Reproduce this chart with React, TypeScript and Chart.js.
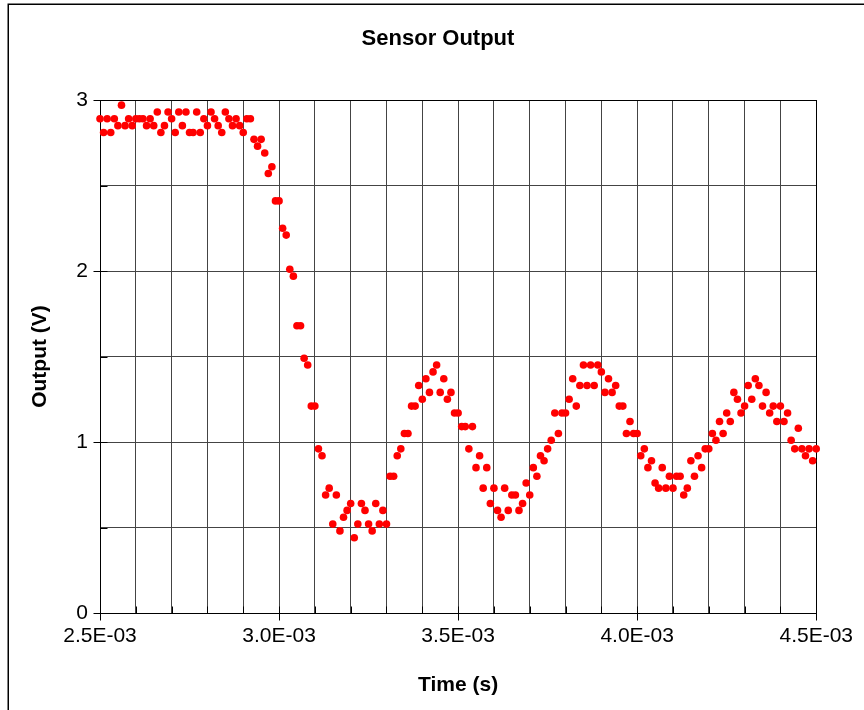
import { useEffect, useRef } from 'react';
import { Chart, registerables } from 'chart.js';

Chart.register(...registerables);

// Sample times (s)
const timeS = [
  0.00250, 0.00251, 0.00252, 0.00253, 0.00254, 0.00255, 0.00256, 0.00257, 0.00258, 0.00259,
  0.00260, 0.00261, 0.00262, 0.00263, 0.00264, 0.00265, 0.00266, 0.00267, 0.00268, 0.00269,
  0.00270, 0.00271, 0.00272, 0.00273, 0.00274, 0.00275, 0.00276, 0.00277, 0.00278, 0.00279,
  0.00280, 0.00281, 0.00282, 0.00283, 0.00284, 0.00285, 0.00286, 0.00287, 0.00288, 0.00289,
  0.00290, 0.00291, 0.00292, 0.00293, 0.00294, 0.00295, 0.00296, 0.00297, 0.00298, 0.00299,
  0.00300, 0.00301, 0.00302, 0.00303, 0.00304, 0.00305, 0.00306, 0.00307, 0.00308, 0.00309,
  0.00310, 0.00311, 0.00312, 0.00313, 0.00314, 0.00315, 0.00316, 0.00317, 0.00318, 0.00319,
  0.00320, 0.00321, 0.00322, 0.00323, 0.00324, 0.00325, 0.00326, 0.00327, 0.00328, 0.00329,
  0.00330, 0.00331, 0.00332, 0.00333, 0.00334, 0.00335, 0.00336, 0.00337, 0.00338, 0.00339,
  0.00340, 0.00341, 0.00342, 0.00343, 0.00344, 0.00345, 0.00346, 0.00347, 0.00348, 0.00349,
  0.00350, 0.00351, 0.00352, 0.00353, 0.00354, 0.00355, 0.00356, 0.00357, 0.00358, 0.00359,
  0.00360, 0.00361, 0.00362, 0.00363, 0.00364, 0.00365, 0.00366, 0.00367, 0.00368, 0.00369,
  0.00370, 0.00371, 0.00372, 0.00373, 0.00374, 0.00375, 0.00376, 0.00377, 0.00378, 0.00379,
  0.00380, 0.00381, 0.00382, 0.00383, 0.00384, 0.00385, 0.00386, 0.00387, 0.00388, 0.00389,
  0.00390, 0.00391, 0.00392, 0.00393, 0.00394, 0.00395, 0.00396, 0.00397, 0.00398, 0.00399,
  0.00400, 0.00401, 0.00402, 0.00403, 0.00404, 0.00405, 0.00406, 0.00407, 0.00408, 0.00409,
  0.00410, 0.00411, 0.00412, 0.00413, 0.00414, 0.00415, 0.00416, 0.00417, 0.00418, 0.00419,
  0.00420, 0.00421, 0.00422, 0.00423, 0.00424, 0.00425, 0.00426, 0.00427, 0.00428, 0.00429,
  0.00430, 0.00431, 0.00432, 0.00433, 0.00434, 0.00435, 0.00436, 0.00437, 0.00438, 0.00439,
  0.00440, 0.00441, 0.00442, 0.00443, 0.00444, 0.00445, 0.00446, 0.00447, 0.00448, 0.00449,
  0.00450,
];

// Sensor output (V)
const outputV = [
  2.89, 2.81, 2.89, 2.81, 2.89, 2.85, 2.97, 2.85, 2.89, 2.85,
  2.89, 2.89, 2.89, 2.85, 2.89, 2.85, 2.93, 2.81, 2.85, 2.93,
  2.89, 2.81, 2.93, 2.85, 2.93, 2.81, 2.81, 2.93, 2.81, 2.89,
  2.85, 2.93, 2.89, 2.85, 2.81, 2.93, 2.89, 2.85, 2.89, 2.85,
  2.81, 2.89, 2.89, 2.77, 2.73, 2.77, 2.69, 2.57, 2.61, 2.41,
  2.41, 2.25, 2.21, 2.01, 1.97, 1.68, 1.68, 1.49, 1.45, 1.21,
  1.21, 0.96, 0.92, 0.69, 0.73, 0.52, 0.69, 0.48, 0.56, 0.60,
  0.64, 0.44, 0.52, 0.64, 0.60, 0.52, 0.48, 0.64, 0.52, 0.60,
  0.52, 0.80, 0.80, 0.92, 0.96, 1.05, 1.05, 1.21, 1.21, 1.33,
  1.25, 1.37, 1.29, 1.41, 1.45, 1.29, 1.37, 1.25, 1.29, 1.17,
  1.17, 1.09, 1.09, 0.96, 1.09, 0.85, 0.92, 0.73, 0.85, 0.64,
  0.73, 0.60, 0.56, 0.73, 0.60, 0.69, 0.69, 0.60, 0.64, 0.76,
  0.69, 0.85, 0.80, 0.92, 0.89, 0.96, 1.01, 1.17, 1.05, 1.17,
  1.17, 1.25, 1.37, 1.21, 1.33, 1.45, 1.33, 1.45, 1.33, 1.45,
  1.41, 1.29, 1.37, 1.29, 1.33, 1.21, 1.21, 1.05, 1.12, 1.05,
  1.05, 0.92, 0.96, 0.85, 0.89, 0.76, 0.73, 0.85, 0.73, 0.80,
  0.73, 0.80, 0.80, 0.69, 0.73, 0.89, 0.80, 0.92, 0.85, 0.96,
  0.96, 1.05, 1.01, 1.12, 1.05, 1.17, 1.12, 1.29, 1.25, 1.17,
  1.21, 1.33, 1.25, 1.37, 1.33, 1.21, 1.29, 1.17, 1.21, 1.12,
  1.21, 1.12, 1.17, 1.01, 0.96, 1.08, 0.96, 0.92, 0.96, 0.89,
  0.96,
];

const xTickLabels = ['2.5E-03', '3.0E-03', '3.5E-03', '4.0E-03', '4.5E-03'];
const yTickLabels = ['0', '1', '2', '3'];

const FONT = "'Liberation Sans', Arial, Helvetica, sans-serif";

// Outer chart frame plus plot-area border and cross/inside tick marks
const framePlugin = {
  id: 'frameAndTicks',
  beforeDatasetsDraw(chart: any) {
    const { ctx, chartArea, scales } = chart;
    const { left, right, top, bottom } = chartArea;
    ctx.save();
    ctx.strokeStyle = '#000';
    ctx.lineWidth = 1;
    ctx.strokeRect(Math.round(left) + 0.5, Math.round(top) + 0.5, Math.round(right - left), Math.round(bottom - top));

    ctx.beginPath();
    const xs = scales.x;
    xs.ticks.forEach((t: any) => {
      const px = Math.round(xs.getPixelForValue(t.value)) + 0.5;
      const major = Math.round(t.value * 1e4) % 5 === 0;
      const y0 = Math.round(bottom) + 0.5;
      ctx.moveTo(px, y0 - 7);
      ctx.lineTo(px, major ? y0 + 7 : y0);
    });
    const ys = scales.y;
    ys.ticks.forEach((t: any) => {
      const py = Math.round(ys.getPixelForValue(t.value)) + 0.5;
      const major = Math.abs(t.value - Math.round(t.value)) < 1e-9;
      const x0 = Math.round(left) + 0.5;
      ctx.moveTo(major ? x0 - 7 : x0, py);
      ctx.lineTo(x0 + 7, py);
    });
    ctx.stroke();
    ctx.restore();
  },
  afterDraw(chart: any) {
    const { ctx } = chart;
    ctx.save();
    ctx.strokeStyle = '#000';
    ctx.lineWidth = 1.5;
    ctx.strokeRect(8.25, 4.25, 2000, 2000);
    ctx.restore();
  },
};

export default function App() {
  const canvasRef = useRef<HTMLCanvasElement | null>(null);

  useEffect(() => {
    const canvas = canvasRef.current;
    if (!canvas) return;
    const points = timeS.map((t, i) => ({ x: t, y: outputV[i] }));

    const chart = new Chart(canvas, {
      type: 'scatter',
      data: {
        datasets: [
          {
            label: 'Output',
            data: points,
            backgroundColor: '#FF0000',
            borderColor: '#FF0000',
            borderWidth: 0,
            pointRadius: 3.8,
            pointHoverRadius: 3.8,
            clip: false as any,
          },
        ],
      },
      options: {
        responsive: false,
        animation: false,
        devicePixelRatio: 1,
        layout: { padding: { left: 12, right: 0, top: 0, bottom: 0 } },
        plugins: {
          legend: { display: false },
          tooltip: { enabled: false },
          title: {
            display: true,
            text: 'Sensor Output',
            color: '#000',
            font: { family: FONT, size: 22, weight: 'bold' },
            padding: { top: 25.8, bottom: 47.8 },
          },
        },
        scales: {
          x: {
            type: 'linear',
            min: 0.0025,
            max: 0.0045,
            grid: { color: '#444', lineWidth: 1, drawTicks: false },
            border: { display: true, color: '#000', width: 1 },
            ticks: {
              stepSize: 0.0001,
              autoSkip: false,
              maxRotation: 0,
              padding: 11,
              color: '#000',
              font: { family: FONT, size: 21 },
              callback: (value: any) => {
                const n = Math.round(Number(value) * 1e4);
                if (n % 5 !== 0) return '';
                return xTickLabels[(n - 25) / 5] ?? '';
              },
            },
            title: {
              display: true,
              text: 'Time (s)',
              color: '#000',
              font: { family: FONT, size: 21, weight: 'bold' },
              padding: { top: 0, bottom: 12.4 },
            },
            afterFit: (scale: any) => {
              scale.height = 97;
            },
          },
          y: {
            type: 'linear',
            min: 0,
            max: 3,
            grid: { color: '#444', lineWidth: 1, drawTicks: false },
            border: { display: true, color: '#000', width: 1 },
            ticks: {
              stepSize: 0.5,
              autoSkip: false,
              padding: 12,
              color: '#000',
              font: { family: FONT, size: 21 },
              callback: (value: any) => {
                const v = Number(value);
                if (Math.abs(v - Math.round(v)) > 1e-9) return '';
                return yTickLabels[Math.round(v)] ?? '';
              },
            },
            title: {
              display: true,
              text: 'Output (V)',
              color: '#000',
              font: { family: FONT, size: 21, weight: 'bold' },
              padding: { top: 15.4, bottom: 0 },
            },
            afterFit: (scale: any) => {
              scale.width = 88;
            },
          },
          // empty right-hand margin box keeping the plot area narrower than the title band
          margin: {
            type: 'linear',
            position: 'right',
            display: true,
            grid: { display: false, drawTicks: false },
            border: { display: false },
            ticks: { display: false },
            title: { display: false },
            afterFit: (scale: any) => {
              scale.width = 46;
            },
          },
        },
      },
      plugins: [framePlugin],
    });

    return () => chart.destroy();
  }, []);

  return (
    <div style={{ position: 'absolute', left: 0, top: 0, width: 864, height: 710, background: '#fff' }}>
      <canvas ref={canvasRef} width={864} height={710} style={{ display: 'block' }} />
    </div>
  );
}
